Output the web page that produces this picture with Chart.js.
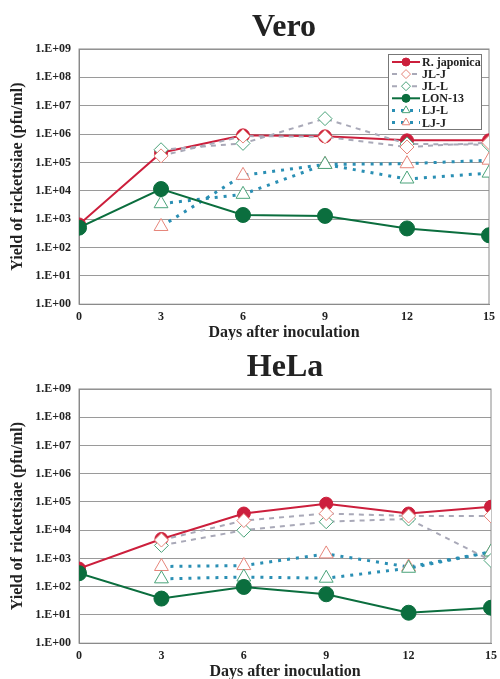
<!DOCTYPE html>
<html>
<head>
<meta charset="utf-8">
<script src="https://cdn.jsdelivr.net/npm/chart.js@4"></script>
<style>
  body { margin: 0; background: #fff; }
  .box { width: 500px; position: relative; }
</style>
</head>
<body>
<div class="box" style="height:340px"><canvas id="vero"></canvas></div>
<div class="box" style="height:339px"><canvas id="hela"></canvas></div>
<script>
// days after inoculation and log axis ticks
const days = [0, 3, 6, 9, 12, 15];
const yTicks = [1, 1e1, 1e2, 1e3, 1e4, 1e5, 1e6, 1e7, 1e8, 1e9];
const seriesNames = ['R. japonica', 'JL-J', 'JL-L', 'LON-13', 'LJ-L', 'LJ-J'];

// Vero cells (pfu/ml)
const veroRJ    = [650, 2.2e5, 9.0e5, 8.3e5, 6.0e5, 6.0e5];
const veroJLJ   = [null, 1.7e5, 8.5e5, 8.0e5, 3.5e5, 5.0e5];
const veroJLL   = [null, 2.8e5, 4.7e5, 3.5e6, 4.5e5, 4.2e5];
const veroLON   = [500, 1.15e4, 1.4e3, 1.3e3, 470, 270];
const veroLJL   = [null, 3.5e3, 7.5e3, 8.5e4, 2.6e4, 4.2e4];
const veroLJJ   = [null, 550, 3.5e4, 8.5e4, 9.0e4, 1.2e5];

// HeLa cells (pfu/ml)
const helaRJ    = [440, 4.9e3, 3.9e4, 8.7e4, 3.9e4, 6.8e4];
const helaJLJ   = [null, 4.5e3, 2.2e4, 3.9e4, 3.2e4, 3.2e4];
const helaJLL   = [null, 2.9e3, 1.0e4, 2.0e4, 2.5e4, 850];
const helaLON   = [300, 38, 98, 54, 12, 18];
const helaLJL   = [null, 190, 220, 200, 450, 1.7e3];
const helaLJJ   = [null, 520, 560, 1.45e3, 500, 1.7e3];

const RED = '#cc1f3c', GREEN = '#0b6e3e', GRAY = '#a9a9b8', TEAL = '#2a8fb4';
const PINK = '#e6857a', MINT = '#4aa37a';

const looks = [
  { color: RED,   dash: [],     width: 2, point: 'circle',   r: 6.5, fill: RED,    edge: RED,   order: 2 },
  { color: GRAY,  dash: [5, 5], width: 2, point: 'rectRot',  r: 7,   fill: '#fff', edge: PINK,  order: 1 },
  { color: GRAY,  dash: [5, 5], width: 2, point: 'rectRot',  r: 7,   fill: '#fff', edge: MINT,  order: 1 },
  { color: GREEN, dash: [],     width: 2, point: 'circle',   r: 7.5, fill: GREEN,  edge: GREEN, order: 0 },
  { color: TEAL,  dash: [3, 6], width: 3, point: 'triangle', r: 8,   fill: '#fff', edge: MINT,  order: 3 },
  { color: TEAL,  dash: [3, 6], width: 3, point: 'triangle', r: 8,   fill: '#fff', edge: PINK,  order: 3 }
];

Chart.defaults.font.family = '"Liberation Serif", "Times New Roman", serif';
Chart.defaults.font.weight = 'bold';
Chart.defaults.color = '#222';

function drawMark(ctx, kind, x, y, r, fill, edge) {
  ctx.beginPath();
  if (kind === 'circle') {
    ctx.arc(x, y, r, 0, Math.PI * 2);
  } else if (kind === 'rectRot') {
    ctx.moveTo(x, y - r); ctx.lineTo(x + r, y); ctx.lineTo(x, y + r); ctx.lineTo(x - r, y);
  } else {
    ctx.moveTo(x, y - r); ctx.lineTo(x + r * 0.87, y + r * 0.5); ctx.lineTo(x - r * 0.87, y + r * 0.5);
  }
  ctx.closePath();
  ctx.fillStyle = fill; ctx.fill();
  ctx.lineWidth = 1; ctx.strokeStyle = edge; ctx.stroke();
}

// legend box drawn inside the plot area, top right
const boxLegend = {
  id: 'boxLegend',
  afterDraw(chart, args, opts) {
    if (!opts.display) return;
    const ctx = chart.ctx, a = chart.chartArea;
    const w = 93, h = 75, x0 = a.right - 101, y0 = a.top + 5;
    ctx.save();
    ctx.fillStyle = '#fff';
    ctx.fillRect(x0, y0, w, h);
    ctx.strokeStyle = '#777';
    ctx.lineWidth = 1;
    ctx.strokeRect(x0 + 0.5, y0 + 0.5, w, h);
    looks.forEach((lk, i) => {
      const y = y0 + 8 + i * 12.1;
      ctx.save();
      ctx.strokeStyle = lk.color;
      ctx.lineWidth = lk.width;
      ctx.setLineDash(lk.dash);
      ctx.beginPath();
      ctx.moveTo(x0 + 4, y); ctx.lineTo(x0 + 32, y);
      ctx.stroke();
      ctx.restore();
      drawMark(ctx, lk.point, x0 + 18, y, lk.point === 'circle' ? 4 : 4.5, lk.fill, lk.edge);
      ctx.fillStyle = '#222';
      ctx.font = 'bold 12px "Liberation Serif", serif';
      ctx.textBaseline = 'middle';
      ctx.fillText(seriesNames[i], x0 + 34, y + 1);
    });
    ctx.restore();
  }
};

// plot frame (right edge)
const frame = {
  id: 'frame',
  beforeDatasetsDraw(chart) {
    const ctx = chart.ctx, a = chart.chartArea;
    ctx.save();
    ctx.strokeStyle = '#8a8a8a';
    ctx.lineWidth = 1;
    ctx.strokeRect(a.left, a.top, a.right - a.left, a.bottom - a.top);
    ctx.restore();
  }
};

function makeChart(id, title, sets, showLegend, rightPad) {
  const datasets = sets.map((vals, i) => {
    const lk = looks[i];
    return {
      label: seriesNames[i],
      data: days.map((d, j) => ({ x: d, y: vals[j] })),
      borderColor: lk.color,
      borderWidth: lk.width,
      borderDash: lk.dash,
      pointStyle: lk.point,
      pointRadius: lk.r,
      pointBackgroundColor: lk.fill,
      pointBorderColor: lk.edge,
      pointBorderWidth: 1,
      order: lk.order,
      tension: 0
    };
  });
  return new Chart(document.getElementById(id), {
    type: 'line',
    data: { datasets: datasets },
    plugins: [boxLegend, frame],
    options: {
      responsive: true,
      maintainAspectRatio: false,
      animation: false,
      layout: { padding: { left: 8, right: rightPad, top: 0, bottom: 1 } },
      plugins: {
        legend: { display: false },
        tooltip: { enabled: false },
        boxLegend: { display: showLegend },
        title: {
          display: true,
          text: title,
          fullSize: false,
          font: { size: 32, weight: 'bold', lineHeight: 1 },
          color: '#222',
          padding: { top: 12, bottom: 5 }
        }
      },
      scales: {
        x: {
          type: 'linear',
          min: 0,
          max: 15,
          grid: { display: false, drawTicks: true, tickLength: 4 },
          border: { color: '#8a8a8a' },
          ticks: { stepSize: 3, padding: 3, font: { size: 12, lineHeight: 1 } },
          title: {
            display: true,
            text: 'Days after inoculation',
            font: { size: 16, lineHeight: 0.8 },
            padding: { top: 0, bottom: 0 }
          }
        },
        y: {
          type: 'logarithmic',
          min: 1,
          max: 1e9,
          afterBuildTicks: (scale) => { scale.ticks = yTicks.map(v => ({ value: v })); },
          grid: { color: '#9a9a9a', lineWidth: 1, drawTicks: false },
          border: { color: '#8a8a8a' },
          ticks: {
            padding: 8,
            font: { size: 12 },
            callback: (v) => '1.E+' + String(Math.round(Math.log10(v))).padStart(2, '0')
          },
          title: {
            display: true,
            text: 'Yield of rickettsiae (pfu/ml)',
            font: { size: 16, lineHeight: 1.2 },
            padding: { top: 0, bottom: 0 }
          }
        }
      }
    }
  });
}

makeChart('vero', 'Vero', [veroRJ, veroJLJ, veroJLL, veroLON, veroLJL, veroLJJ], true, 11);
makeChart('hela', 'HeLa', [helaRJ, helaJLJ, helaJLL, helaLON, helaLJL, helaLJJ], false, 7);
</script>
</body>
</html>
